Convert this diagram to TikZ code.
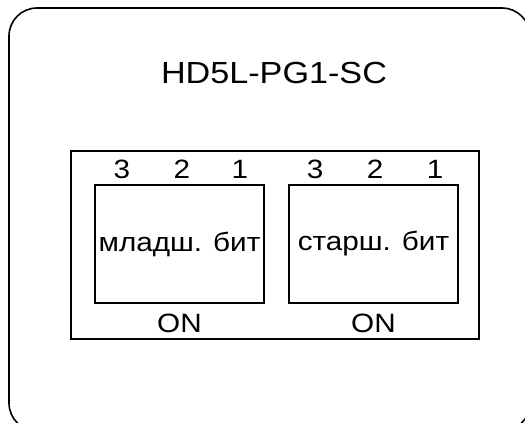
\documentclass[tikz,border=0pt]{standalone}
\usepackage{fontspec}
\setmainfont[FakeStretch=1.12]{Liberation Sans}
\usetikzlibrary{positioning}

\begin{document}
\begin{tikzpicture}[x=1pt,y=-1pt,line width=1.6pt,
                    switch/.style={draw,minimum width=169pt,minimum height=118pt,inner sep=0pt},
                    txt/.style={font=\fontsize{26.5}{30}\selectfont,inner sep=0pt}]
\useasboundingbox (0,0) rectangle (525,423);
\draw[rounded corners=28pt] (9,8) rectangle (530,431);

\node[txt,font=\fontsize{30.5}{36}\selectfont,anchor=base] (title) at (274,83) {HD5L-PG1-SC};
\node[draw,minimum width=408pt,minimum height=188pt,inner sep=0pt] (panel) at (275,245) {};

\node[switch] (low) at (179.5,244) {};
\node[switch] (high) at (373.5,244) {};
\node[txt] at (low) {младш. бит};
\node[txt] at (high) {старш. бит};

% dip switch positions
\foreach \x/\n in {122/3,182/2,240/1,315/3,375/2,435/1}
  \node[txt,anchor=base] (d\x) at (\x,178) {\n};

\node[txt,anchor=base] (onlow) at (low.south |- 0,332) {ON};
\node[txt,anchor=base] (onhigh) at (high.south |- 0,332) {ON};
\end{tikzpicture}
\end{document}
